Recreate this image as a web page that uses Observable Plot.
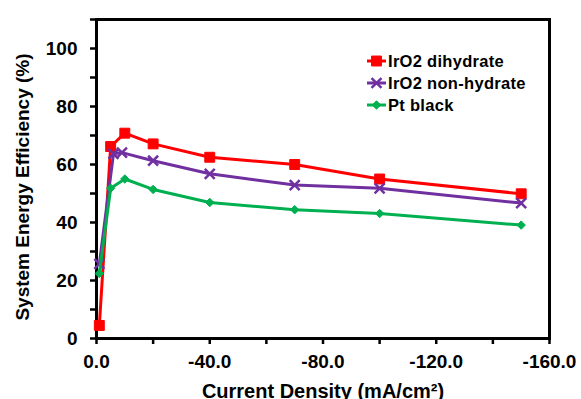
<!DOCTYPE html>
<html>
<head>
<meta charset="utf-8">
<script src="https://cdn.jsdelivr.net/npm/d3@7"></script>
<script src="https://cdn.jsdelivr.net/npm/@observablehq/plot@0.6"></script>
<style>
  html, body { margin: 0; padding: 0; background: #fff; overflow: hidden; }
  #chart svg { display: block; }
</style>
</head>
<body>
<div id="chart"></div>
<script>
// Catalyst series: names, colours, marker shapes
const seriesNames = ["IrO2 dihydrate", "IrO2 non-hydrate", "Pt black"];
const seriesColors = ["#ff0000", "#7030a0", "#00b050"];
const seriesSymbols = ["square", "times", "diamond2"];

// Current density (mA/cm²) and system energy efficiency (%) per catalyst
const dihydrateDensity = [-1, -5, -10, -20, -40, -70, -100, -150];
const dihydrateEfficiency = [4.5, 66.2, 70.8, 67.1, 62.5, 60.0, 55.0, 49.9];
const nonHydrateDensity = [-1, -6, -9, -20, -40, -70, -100, -150];
const nonHydrateEfficiency = [25.7, 63.7, 64.1, 61.3, 56.8, 52.9, 51.8, 46.7];
const ptBlackDensity = [-1, -5, -10, -20, -40, -70, -100, -150];
const ptBlackEfficiency = [22.4, 51.8, 55.0, 51.4, 46.9, 44.4, 43.1, 39.1];

// Axis ticks (labelled ones are a subset)
const xTicks = [0, -20, -40, -60, -80, -100, -120, -140, -160];
const xTickLabels = [0, -40, -80, -120, -160];
const yTicks = [0, 10, 20, 30, 40, 50, 60, 70, 80, 90, 100, 110];
const yTickLabels = [0, 20, 40, 60, 80, 100];

const xTitle = "Current Density (mA/cm²)";
const yTitle = "System Energy Efficiency (%)";

const seriesData = [
  [dihydrateDensity, dihydrateEfficiency],
  [nonHydrateDensity, nonHydrateEfficiency],
  [ptBlackDensity, ptBlackEfficiency]
].map(([xs, ys], i) => xs.map((x, j) => ({series: seriesNames[i], density: x, efficiency: ys[j]})));

const markerR = [5.6, 4.6, 3.8];
const d3Symbols = {square: d3.symbolSquare, times: d3.symbolTimes, diamond2: d3.symbolDiamond2};
const fontFamily = "'Liberation Sans', Arial, Helvetica, sans-serif";

function seriesMarks(rows, i) {
  const filled = seriesSymbols[i] !== "times";
  return [
    Plot.line(rows, {x: "density", y: "efficiency", stroke: seriesColors[i], strokeWidth: 3}),
    Plot.dot(rows, {
      x: "density", y: "efficiency", symbol: seriesSymbols[i], r: markerR[i],
      fill: filled ? seriesColors[i] : "none",
      stroke: seriesColors[i], strokeWidth: filled ? 1 : 2.5
    })
  ];
}

// Legend in the upper right of the plot frame
function legend(index, scales, values, dims) {
  const g = d3.create("svg:g")
    .attr("font-family", fontFamily)
    .attr("font-size", 16.5)
    .attr("font-weight", "bold")
    .attr("text-anchor", "start")
    .attr("letter-spacing", "0.3px");
  const x0 = dims.width - dims.marginRight - 182;
  seriesNames.forEach((name, i) => {
    const cy = dims.marginTop + 42 + i * 22;
    const filled = seriesSymbols[i] !== "times";
    g.append("line")
      .attr("x1", x0).attr("x2", x0 + 19).attr("y1", cy).attr("y2", cy)
      .attr("stroke", seriesColors[i]).attr("stroke-width", 3);
    g.append("path")
      .attr("transform", `translate(${x0 + 9.5},${cy})`)
      .attr("d", d3.symbol(d3Symbols[seriesSymbols[i]], Math.PI * markerR[i] * markerR[i])())
      .attr("fill", filled ? seriesColors[i] : "none")
      .attr("stroke", seriesColors[i])
      .attr("stroke-width", filled ? 1 : 2.5);
    g.append("text")
      .attr("x", x0 + 21).attr("y", cy).attr("dy", "0.35em")
      .attr("fill", "#000")
      .text(name);
  });
  return g.node();
}

const chart = Plot.plot({
  width: 581,
  height: 399,
  marginLeft: 96,
  marginRight: 32,
  marginTop: 19,
  marginBottom: 61,
  style: {fontFamily, fontWeight: "bold", fontSize: "19px", color: "#000", background: "#fff", overflow: "visible"},
  x: {domain: [0, -160]},
  y: {domain: [0, 110]},
  marks: [
    Plot.axisX({
      ticks: xTicks, tickSize: 6, tickPadding: 10, strokeWidth: 2.5, label: null,
      tickFormat: d => xTickLabels.includes(d) ? d.toFixed(1) : "",
      fontSize: 19, letterSpacing: "0.5px", fill: "#000"
    }),
    Plot.axisY({
      ticks: yTicks, tickSize: 6, tickPadding: 13, strokeWidth: 2.5, label: null,
      tickFormat: d => yTickLabels.includes(d) ? String(d) : "",
      fontSize: 19, letterSpacing: "0.5px", fill: "#000"
    }),
    Plot.frame({stroke: "#000", strokeWidth: 3}),
    ...seriesData.flatMap((rows, i) => seriesMarks(rows, i)),
    Plot.text([xTitle], {
      text: d => d, frameAnchor: "bottom", lineAnchor: "top", dy: 45,
      fontSize: 20, letterSpacing: "0.25px", fill: "#000"
    }),
    Plot.text([yTitle], {
      text: d => d, frameAnchor: "left", textAnchor: "middle", rotate: -90, dx: -74, dy: 8,
      fontSize: 19, letterSpacing: "0.4px", fill: "#000"
    }),
    legend
  ]
});

document.getElementById("chart").appendChild(chart);
</script>
</body>
</html>
